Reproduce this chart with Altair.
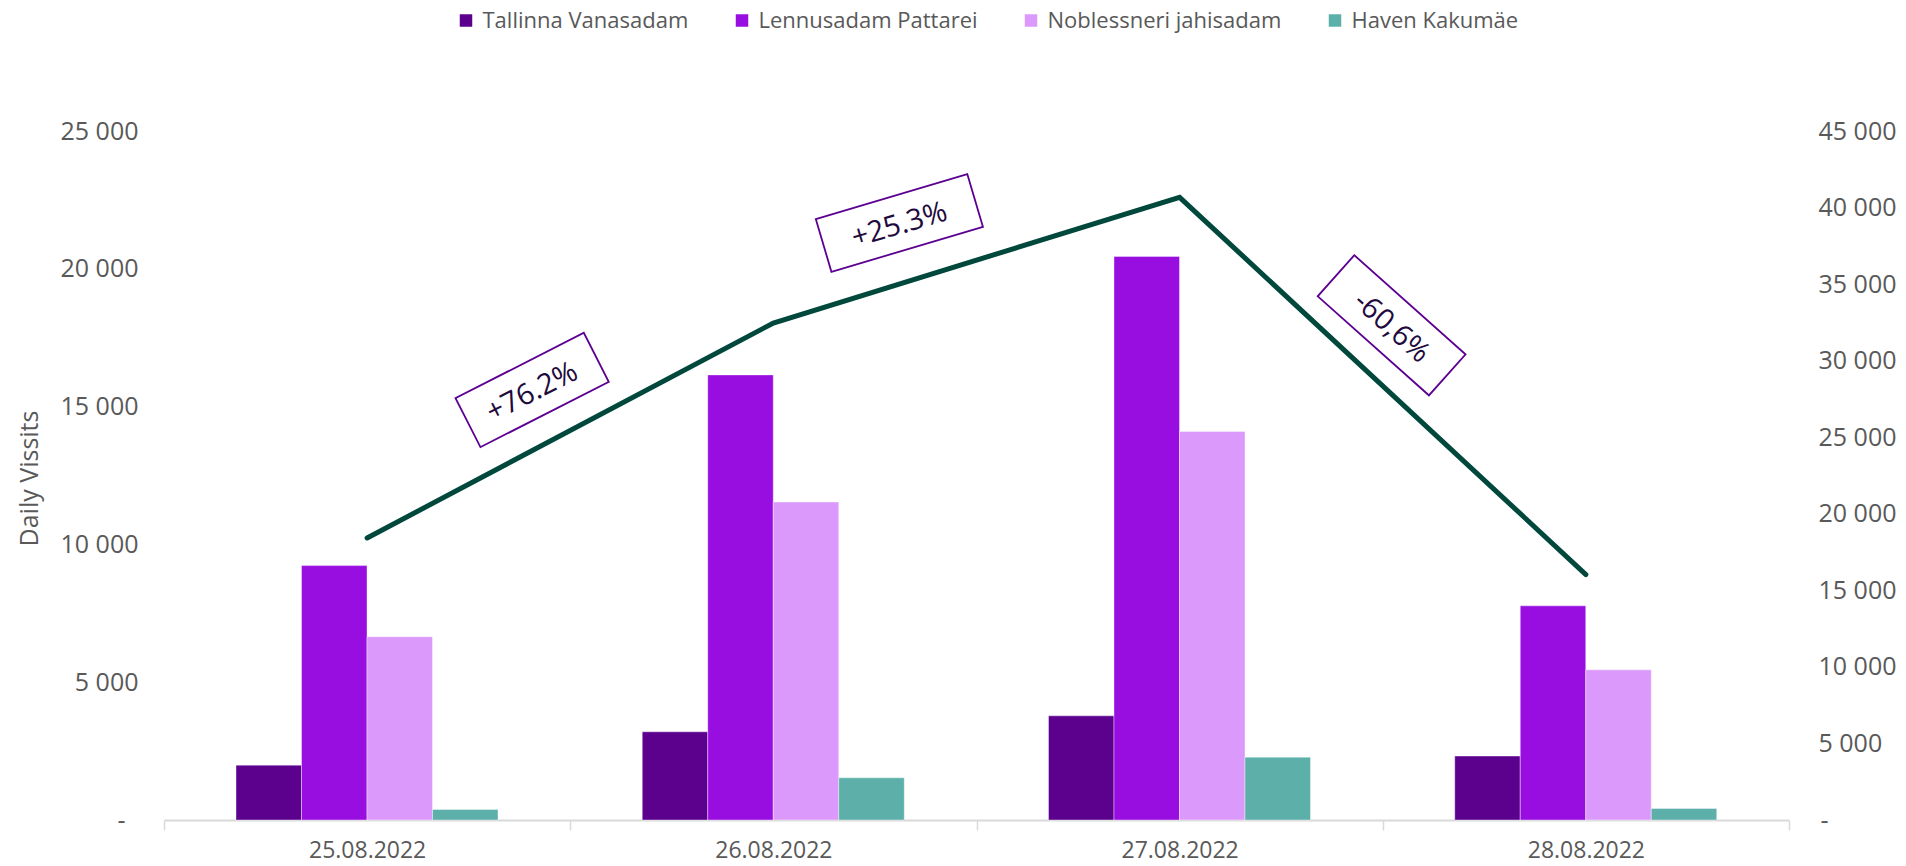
import altair as alt
import pandas as pd

# ---------------- data ----------------
dates = ["25.08.2022", "26.08.2022", "27.08.2022", "28.08.2022"]
series = ["Tallinna Vanasadam", "Lennusadam Pattarei", "Noblessneri jahisadam", "Haven Kakumäe"]
tallinna = [1990, 3200, 3780, 2320]
lennusadam = [9230, 16150, 20450, 7770]
noblessneri = [6650, 11540, 14100, 5450]
haven = [380, 1530, 2280, 420]
totals = [18420, 32460, 40670, 16030]
change_from = ["25.08.2022", "26.08.2022", "27.08.2022"]
change_labels = ["+76.2%", "+25.3%", "-60,6%"]
left_ticks = [0, 5000, 10000, 15000, 20000, 25000]
right_ticks = [0, 5000, 10000, 15000, 20000, 25000, 30000, 35000, 40000, 45000]

# ---------------- styles ----------------
colors = ["#5c008e", "#980de0", "#dc99fc", "#5cb0a9"]
LINE = "#00473c"
BOX = "#5c0091"
TXT = "#1e0a3c"
GRAY = "#595959"
AXIS_GRAY = "#d9d9d9"
FONT = "Open Sans"

rows = []
for s, vals in zip(series, [tallinna, lennusadam, noblessneri, haven]):
    for d, v in zip(dates, vals):
        rows.append({"date": d, "series": s, "visits": v})
bars_df = pd.DataFrame(rows)
line_df = pd.DataFrame({"date": dates, "total": totals})
ann_df = pd.DataFrame({
    "date": change_from,
    "label": change_labels,
    "anchor": [totals[dates.index(d)] for d in change_from],
})

x_enc = alt.X(
    "date:N", sort=dates,
    scale=alt.Scale(domain=dates, paddingInner=0, paddingOuter=0),
    axis=alt.Axis(title=None, labelAngle=0, labelFont=FONT, labelFontSize=23,
                  labelColor=GRAY, labelPadding=9, domainColor=AXIS_GRAY,
                  domainWidth=2, tickColor=AXIS_GRAY, tickWidth=1.5, tickSize=10,
                  tickBand="extent", grid=False),
)

bars = alt.Chart(bars_df).mark_bar(stroke="white", strokeWidth=0.8, strokeOpacity=0.5).encode(
    x=x_enc,
    xOffset=alt.XOffset("series:N", sort=series,
                        scale=alt.Scale(domain=series, range=[72, 334],
                                        paddingInner=0, paddingOuter=0)),
    y=alt.Y("visits:Q",
            scale=alt.Scale(domain=[0, 25000], nice=False),
            axis=alt.Axis(values=left_ticks, grid=False, domain=False, ticks=False,
                          labelFont=FONT, labelFontSize=25, labelColor=GRAY,
                          labelPadding={"condition": {"test": "datum.value == 0", "value": 39},
                                        "value": 26},
                          labelExpr="datum.value == 0 ? '-' : replace(format(datum.value, ','), ',', ' ')",
                          title="Daily Vissits", titleFont=FONT, titleFontSize=25,
                          titleFontWeight="normal", titleColor=GRAY,
                          titleX=-127, titleY=347, titleBaseline="alphabetic")),
    color=alt.Color("series:N",
                    scale=alt.Scale(domain=series, range=colors),
                    legend=alt.Legend(title=None, orient="none", direction="horizontal",
                                      columns=4, legendX=291, legendY=-121.5,
                                      symbolType="square", symbolSize=156,
                                      symbolStrokeWidth=0, labelFont=FONT,
                                      labelFontSize=22, labelColor=GRAY, labelOffset=5.5,
                                      labelLimit=500, columnPadding=42)),
)

right_scale = alt.Scale(domain=[0, 45000], nice=False)

line = alt.Chart(line_df).mark_line(color=LINE, strokeWidth=5, strokeCap="round").encode(
    x=alt.X("date:N", sort=dates),
    y=alt.Y("total:Q", scale=right_scale,
            axis=alt.Axis(orient="right", values=right_ticks, grid=False, domain=False,
                          ticks=False, labelFont=FONT, labelFontSize=25, labelColor=GRAY,
                          labelPadding={"condition": {"test": "datum.value == 0", "value": 31},
                                        "value": 29},
                          title=None,
                          labelExpr="datum.value == 0 ? '-' : replace(format(datum.value, ','), ',', ' ')")),
)


def annotation(i, xoff, yoff, angle, w, h):
    sub = alt.Chart(ann_df).transform_filter(alt.datum.label == change_labels[i])
    r = h / w
    path = f"M-1,{-r:.4f}L1,{-r:.4f}L1,{r:.4f}L-1,{r:.4f}Z"
    enc = dict(x=alt.X("date:N", sort=dates),
               y=alt.Y("anchor:Q", scale=right_scale))
    box = sub.mark_point(shape=path, size=w * w, angle=angle, filled=True, fill="white",
                         stroke=BOX, strokeWidth=1.8, opacity=1,
                         xOffset=xoff, yOffset=yoff).encode(**enc)
    txt = sub.mark_text(angle=angle, font=FONT, fontSize=29, color=TXT, align="center",
                        baseline="middle", xOffset=xoff, yOffset=yoff + 2).encode(
        text="label:N", **enc)
    return [box, txt]


anns = (annotation(0, 165, -148, 333, 144, 55)
        + annotation(1, 126, -100, 343.5, 158, 55)
        + annotation(2, 212, 128, 41.7, 149, 55))

right_layer = alt.layer(line, *anns)

chart = alt.layer(bars, right_layer).resolve_scale(
    y="independent"
).properties(
    width=1625, height=689,
    autosize=alt.AutoSizeParams(type="none"),
    padding={"left": 156, "top": 123, "right": 109, "bottom": 45},
).configure(background="white").configure_view(strokeWidth=0)

chart.save("out.html", embed_options={"renderer": "svg", "actions": False})
